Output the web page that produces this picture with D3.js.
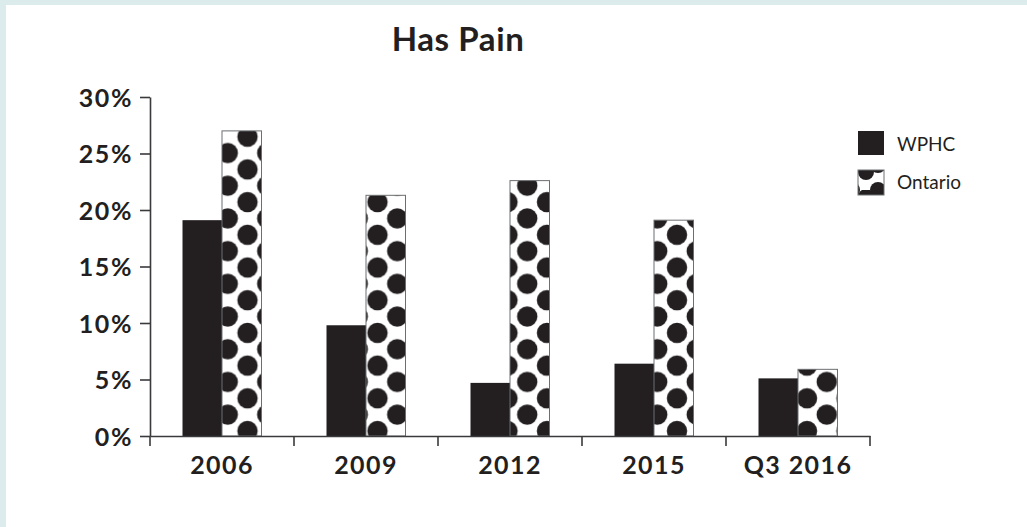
<!DOCTYPE html>
<html>
<head>
<meta charset="utf-8">
<script src="https://cdn.jsdelivr.net/npm/d3@7"></script>
<style>
  html, body { margin: 0; padding: 0; background: #dcebeb; }
  body { width: 1027px; height: 527px; overflow: hidden; }
  svg { position: absolute; left: 6px; top: 5px; background: #fff; }
  text { font-family: Lato, "Open Sans", sans-serif; fill: #231f20; }
</style>
</head>
<body>
<svg id="chart"></svg>
<script>
// data
const categories = ["2006", "2009", "2012", "2015", "Q3 2016"];
const wphc = [19.1, 9.8, 4.7, 6.4, 5.1];
const ontario = [27.0, 21.3, 22.6, 19.1, 5.9];
const seriesNames = ["WPHC", "Ontario"];
const yTicks = [0, 5, 10, 15, 20, 25, 30];

const ink = "#231f20";
const width = 1021, height = 522;
const ox = 6, oy = 5; // svg offset inside the page

const svg = d3.select("#chart").attr("width", width).attr("height", height);
const g = svg.append("g").attr("transform", "translate(" + [-ox, -oy] + ")");
const defs = svg.append("defs");

const y = d3.scaleLinear().domain([0, 30]).range([436, 97]);
const x0 = d3.scaleBand().domain(categories).range([150, 870]);
const barW = 39.5;
const x1 = d3.scaleBand().domain(seriesNames)
    .range([x0.bandwidth() / 2 - barW, x0.bandwidth() / 2 + barW]);

// dotted pattern, one per bar so it starts at the bar's left edge and baseline
function dotPattern(id, px, py, w, h, r) {
    const p = defs.append("pattern")
        .attr("id", id)
        .attr("patternUnits", "userSpaceOnUse")
        .attr("x", px - ox).attr("y", py - oy)
        .attr("width", w).attr("height", h);
    p.append("rect").attr("width", w).attr("height", h).attr("fill", "#fff");
    [[0, 0], [w, 0], [w / 2, h / 2], [0, h], [w, h]].forEach(c => {
        p.append("circle").attr("cx", c[0]).attr("cy", c[1]).attr("r", r).attr("fill", ink);
    });
}

// title
g.append("text")
    .attr("x", 458).attr("y", 51)
    .attr("text-anchor", "middle")
    .style("font-size", "33px").style("font-weight", 700)
    .style("letter-spacing", "0.6px")
    .text("Has Pain");

// bars
const groups = g.selectAll(".cat")
    .data(categories)
    .enter().append("g")
    .attr("class", "cat")
    .attr("transform", d => "translate(" + x0(d) + ",0)");

groups.append("rect")
    .attr("x", x1("WPHC"))
    .attr("y", (d, i) => y(wphc[i]))
    .attr("width", x1.bandwidth())
    .attr("height", (d, i) => y(0) - y(wphc[i]))
    .attr("fill", ink);

categories.forEach((c, i) => {
    dotPattern("ont-" + i, x0(c) + x1("Ontario"), y(0), x1.bandwidth(), 32.7, 10.2);
});

groups.append("rect")
    .attr("x", x1("Ontario"))
    .attr("y", (d, i) => y(ontario[i]))
    .attr("width", x1.bandwidth())
    .attr("height", (d, i) => y(0) - y(ontario[i]))
    .attr("fill", (d, i) => "url(#ont-" + i + ")")
    .attr("stroke", "#6d6e71")
    .attr("stroke-width", 1);

// y axis
const yAxis = g.append("g")
    .attr("transform", "translate(150,0)")
    .call(d3.axisLeft(y).tickValues(yTicks).tickSize(10).tickSizeOuter(0).tickPadding(7)
        .tickFormat(d => d + "%"));
yAxis.selectAll("text")
    .style("font-size", "25px").style("font-weight", 700)
    .style("letter-spacing", "1.6px")
    .attr("dy", "0.36em");

// x axis
const xAxis = g.append("g")
    .attr("transform", "translate(0," + y(0) + ")")
    .call(d3.axisBottom(x0).tickSize(0).tickSizeOuter(0).tickPadding(20));
xAxis.selectAll("text")
    .style("font-size", "25px").style("font-weight", 700)
    .style("letter-spacing", "1.4px");
xAxis.selectAll(".bound")
    .data(categories.map(c => x0(c)).concat([x0.range()[1]]))
    .enter().append("line")
    .attr("class", "bound")
    .attr("x1", d => d).attr("x2", d => d)
    .attr("y1", 0).attr("y2", 10);

g.selectAll(".domain, .tick line, .bound")
    .attr("stroke", "#3a3a3c")
    .attr("stroke-width", 1.6);

// legend
const lx = 858;
defs.append("pattern")
    .attr("id", "ont-legend")
    .attr("patternUnits", "userSpaceOnUse")
    .attr("x", lx - ox).attr("y", 170 - oy)
    .attr("width", 26).attr("height", 25)
    .call(p => {
        p.append("rect").attr("width", 26).attr("height", 25).attr("fill", "#fff");
        [[0, 0], [26, 0], [14, 7], [0, 25], [26, 25]].forEach(c => {
            p.append("circle").attr("cx", c[0]).attr("cy", c[1]).attr("r", 8).attr("fill", ink);
        });
    });

const legend = g.append("g");
legend.append("rect")
    .attr("x", lx).attr("y", 131).attr("width", 26).attr("height", 24)
    .attr("fill", ink);
legend.append("rect")
    .attr("x", lx).attr("y", 170).attr("width", 26).attr("height", 25)
    .attr("fill", "url(#ont-legend)")
    .attr("stroke", "#6d6e71").attr("stroke-width", 1);
legend.selectAll(".lt")
    .data(seriesNames)
    .enter().append("text")
    .attr("class", "lt")
    .attr("x", 897)
    .attr("y", (d, i) => 151 + i * 38)
    .style("font-size", "19px")
    .text(d => d);
</script>
</body>
</html>
